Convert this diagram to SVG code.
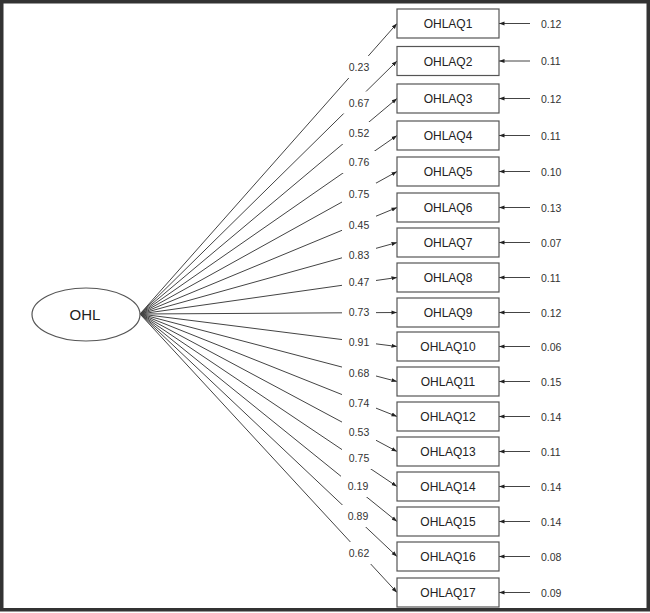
<svg xmlns="http://www.w3.org/2000/svg" width="650" height="613" viewBox="0 0 650 613">
<style>
.bx{fill:#fff;stroke:#555;stroke-width:1.2}
.ln{stroke:#444;stroke-width:1;fill:none}
.lt{font-family:"Liberation Sans",Arial,sans-serif;font-size:12px;fill:#222;text-anchor:middle}
.nt{font-family:"Liberation Sans",Arial,sans-serif;font-size:10.5px;fill:#333}
.lb{fill:#fff}
</style>
<defs>
<marker id="ah" markerUnits="userSpaceOnUse" markerWidth="6" markerHeight="5" refX="5.5" refY="2.5" orient="auto">
<path d="M0,0.5 L5.5,2.5 L0,4.5 z" fill="#222"/>
</marker>
</defs>
<rect x="0" y="0" width="650" height="613" fill="#fff"/>
<rect x="1.75" y="1.75" width="646.5" height="608" fill="none" stroke="#333" stroke-width="3.5"/>

<g id="connectors">
<line class="ln" x1="140" y1="314" x2="397" y2="23.5" marker-end="url(#ah)"/>
<line class="ln" x1="140" y1="314" x2="397" y2="61" marker-end="url(#ah)"/>
<line class="ln" x1="140" y1="314" x2="397" y2="98.5" marker-end="url(#ah)"/>
<line class="ln" x1="140" y1="314" x2="397" y2="135.5" marker-end="url(#ah)"/>
<line class="ln" x1="140" y1="314" x2="397" y2="171.5" marker-end="url(#ah)"/>
<line class="ln" x1="140" y1="314" x2="397" y2="207.5" marker-end="url(#ah)"/>
<line class="ln" x1="140" y1="314" x2="397" y2="242.5" marker-end="url(#ah)"/>
<line class="ln" x1="140" y1="314" x2="397" y2="277.5" marker-end="url(#ah)"/>
<line class="ln" x1="140" y1="314" x2="397" y2="312.5" marker-end="url(#ah)"/>
<line class="ln" x1="140" y1="314" x2="397" y2="346.5" marker-end="url(#ah)"/>
<line class="ln" x1="140" y1="314" x2="397" y2="381.5" marker-end="url(#ah)"/>
<line class="ln" x1="140" y1="314" x2="397" y2="416.5" marker-end="url(#ah)"/>
<line class="ln" x1="140" y1="314" x2="397" y2="451.5" marker-end="url(#ah)"/>
<line class="ln" x1="140" y1="314" x2="397" y2="486.5" marker-end="url(#ah)"/>
<line class="ln" x1="140" y1="314" x2="397" y2="521.5" marker-end="url(#ah)"/>
<line class="ln" x1="140" y1="314" x2="397" y2="556.5" marker-end="url(#ah)"/>
<line class="ln" x1="140" y1="314" x2="397" y2="592.5" marker-end="url(#ah)"/>

<g id="loading-labels">
<rect class="lb" x="342" y="56" width="34" height="22"/><text class="nt" x="359" y="71" text-anchor="middle">0.23</text>
<rect class="lb" x="342" y="91.5" width="34" height="22"/><text class="nt" x="359" y="106.5" text-anchor="middle">0.67</text>
<rect class="lb" x="342" y="122" width="34" height="22"/><text class="nt" x="359" y="137" text-anchor="middle">0.52</text>
<rect class="lb" x="342" y="151" width="34" height="22"/><text class="nt" x="359" y="166" text-anchor="middle">0.76</text>
<rect class="lb" x="342" y="183" width="34" height="22"/><text class="nt" x="359" y="198" text-anchor="middle">0.75</text>
<rect class="lb" x="342" y="214" width="34" height="22"/><text class="nt" x="359" y="229" text-anchor="middle">0.45</text>
<rect class="lb" x="342" y="244" width="34" height="22"/><text class="nt" x="359" y="259" text-anchor="middle">0.83</text>
<rect class="lb" x="342" y="272" width="34" height="20"/><text class="nt" x="359" y="286" text-anchor="middle">0.47</text>
<rect class="lb" x="342" y="302" width="34" height="20"/><text class="nt" x="359" y="316" text-anchor="middle">0.73</text>
<rect class="lb" x="342" y="332" width="34" height="20"/><text class="nt" x="359" y="346" text-anchor="middle">0.91</text>
<rect class="lb" x="342" y="362" width="34" height="22"/><text class="nt" x="359" y="377" text-anchor="middle">0.68</text>
<rect class="lb" x="342" y="392" width="34" height="22"/><text class="nt" x="359" y="407" text-anchor="middle">0.74</text>
<rect class="lb" x="342" y="421" width="34" height="22"/><text class="nt" x="359" y="436" text-anchor="middle">0.53</text>
<rect class="lb" x="342" y="447" width="34" height="22"/><text class="nt" x="359" y="462" text-anchor="middle">0.75</text>
<rect class="lb" x="341" y="475" width="34" height="22"/><text class="nt" x="358" y="490" text-anchor="middle">0.19</text>
<rect class="lb" x="341" y="505" width="34" height="22"/><text class="nt" x="358" y="520" text-anchor="middle">0.89</text>
<rect class="lb" x="342" y="542" width="34" height="22"/><text class="nt" x="359" y="557" text-anchor="middle">0.62</text>
</g>

<g id="error-arrows">
<line class="ln" x1="530" y1="23.5" x2="499" y2="23.5" marker-end="url(#ah)"/>
<line class="ln" x1="530" y1="61" x2="499" y2="61" marker-end="url(#ah)"/>
<line class="ln" x1="530" y1="98.5" x2="499" y2="98.5" marker-end="url(#ah)"/>
<line class="ln" x1="530" y1="135.5" x2="499" y2="135.5" marker-end="url(#ah)"/>
<line class="ln" x1="530" y1="171.5" x2="499" y2="171.5" marker-end="url(#ah)"/>
<line class="ln" x1="530" y1="207.5" x2="499" y2="207.5" marker-end="url(#ah)"/>
<line class="ln" x1="530" y1="242.5" x2="499" y2="242.5" marker-end="url(#ah)"/>
<line class="ln" x1="530" y1="277.5" x2="499" y2="277.5" marker-end="url(#ah)"/>
<line class="ln" x1="530" y1="312.5" x2="499" y2="312.5" marker-end="url(#ah)"/>
<line class="ln" x1="530" y1="346.5" x2="499" y2="346.5" marker-end="url(#ah)"/>
<line class="ln" x1="530" y1="381.5" x2="499" y2="381.5" marker-end="url(#ah)"/>
<line class="ln" x1="530" y1="416.5" x2="499" y2="416.5" marker-end="url(#ah)"/>
<line class="ln" x1="530" y1="451.5" x2="499" y2="451.5" marker-end="url(#ah)"/>
<line class="ln" x1="530" y1="486.5" x2="499" y2="486.5" marker-end="url(#ah)"/>
<line class="ln" x1="530" y1="521.5" x2="499" y2="521.5" marker-end="url(#ah)"/>
<line class="ln" x1="530" y1="556.5" x2="499" y2="556.5" marker-end="url(#ah)"/>
<line class="ln" x1="530" y1="592.5" x2="499" y2="592.5" marker-end="url(#ah)"/>
</g>
</g>

<g id="OHL"><ellipse cx="86" cy="314.5" rx="54" ry="26.5" fill="#fff" stroke="#555" stroke-width="1.2"/><text x="85" y="320" font-family="'Liberation Sans',Arial,sans-serif" font-size="15" fill="#222" text-anchor="middle">OHL</text></g>

<g id="OHLAQ1"><rect class="bx" x="397" y="9" width="102" height="29"/><text class="lt" x="448" y="28">OHLAQ1</text><text class="nt" x="541" y="27.5">0.12</text></g>
<g id="OHLAQ2"><rect class="bx" x="397" y="46.5" width="102" height="29"/><text class="lt" x="448" y="65.5">OHLAQ2</text><text class="nt" x="541" y="65">0.11</text></g>
<g id="OHLAQ3"><rect class="bx" x="397" y="84" width="102" height="29"/><text class="lt" x="448" y="103">OHLAQ3</text><text class="nt" x="541" y="102.5">0.12</text></g>
<g id="OHLAQ4"><rect class="bx" x="397" y="121" width="102" height="29"/><text class="lt" x="448" y="140">OHLAQ4</text><text class="nt" x="541" y="139.5">0.11</text></g>
<g id="OHLAQ5"><rect class="bx" x="397" y="157" width="102" height="29"/><text class="lt" x="448" y="176">OHLAQ5</text><text class="nt" x="541" y="175.5">0.10</text></g>
<g id="OHLAQ6"><rect class="bx" x="397" y="193" width="102" height="29"/><text class="lt" x="448" y="212">OHLAQ6</text><text class="nt" x="541" y="211.5">0.13</text></g>
<g id="OHLAQ7"><rect class="bx" x="397" y="228" width="102" height="29"/><text class="lt" x="448" y="247">OHLAQ7</text><text class="nt" x="541" y="246.5">0.07</text></g>
<g id="OHLAQ8"><rect class="bx" x="397" y="263" width="102" height="29"/><text class="lt" x="448" y="282">OHLAQ8</text><text class="nt" x="541" y="281.5">0.11</text></g>
<g id="OHLAQ9"><rect class="bx" x="397" y="298" width="102" height="29"/><text class="lt" x="448" y="317">OHLAQ9</text><text class="nt" x="541" y="316.5">0.12</text></g>
<g id="OHLAQ10"><rect class="bx" x="397" y="332" width="102" height="29"/><text class="lt" x="448" y="351">OHLAQ10</text><text class="nt" x="541" y="350.5">0.06</text></g>
<g id="OHLAQ11"><rect class="bx" x="397" y="367" width="102" height="29"/><text class="lt" x="448" y="386">OHLAQ11</text><text class="nt" x="541" y="385.5">0.15</text></g>
<g id="OHLAQ12"><rect class="bx" x="397" y="402" width="102" height="29"/><text class="lt" x="448" y="421">OHLAQ12</text><text class="nt" x="541" y="420.5">0.14</text></g>
<g id="OHLAQ13"><rect class="bx" x="397" y="437" width="102" height="29"/><text class="lt" x="448" y="456">OHLAQ13</text><text class="nt" x="541" y="455.5">0.11</text></g>
<g id="OHLAQ14"><rect class="bx" x="397" y="472" width="102" height="29"/><text class="lt" x="448" y="491">OHLAQ14</text><text class="nt" x="541" y="490.5">0.14</text></g>
<g id="OHLAQ15"><rect class="bx" x="397" y="507" width="102" height="29"/><text class="lt" x="448" y="526">OHLAQ15</text><text class="nt" x="541" y="525.5">0.14</text></g>
<g id="OHLAQ16"><rect class="bx" x="397" y="542" width="102" height="29"/><text class="lt" x="448" y="561">OHLAQ16</text><text class="nt" x="541" y="560.5">0.08</text></g>
<g id="OHLAQ17"><rect class="bx" x="397" y="578" width="102" height="29"/><text class="lt" x="448" y="597">OHLAQ17</text><text class="nt" x="541" y="596.5">0.09</text></g>
</svg>
